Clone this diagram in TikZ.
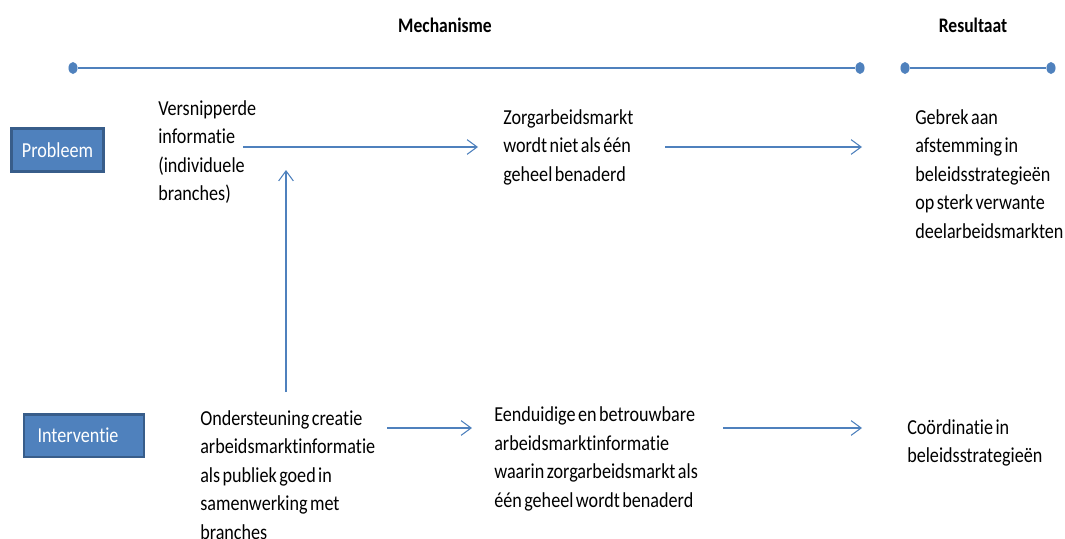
\documentclass[tikz,border=0pt]{standalone}
\usepackage{fontspec}
\setmainfont{Carlito}[FakeStretch=0.85, WordSpace=0.6, Ligatures=NoCommon]
\usetikzlibrary{arrows.meta,shapes.geometric}
\definecolor{lineblue}{HTML}{4F81BD}
\definecolor{edgeblue}{HTML}{385D8A}

\tikzset{
  dot/.style={ellipse, fill=lineblue, inner sep=0pt, minimum width=6.8pt, minimum height=9pt},
  axis/.style={lineblue, line width=1.5pt},
  flow/.style={lineblue, line width=0.8pt, -{Straight Barb[length=7.5pt, width=11pt, line width=0.8pt]}},
  tag/.style={draw=edgeblue, line width=2pt, fill=lineblue, text=white, inner sep=0pt,
    minimum width=69pt, minimum height=32pt, font=\fontsize{16}{18}\selectfont},
  txt/.style={anchor=north west, align=left, inner sep=0pt, font=\fontsize{16}{21.4}\selectfont},
  head/.style={font=\fontsize{15.5}{18}\selectfont\bfseries}
}

\begin{document}
\begin{tikzpicture}[x=0.75pt, y=-0.75pt]
    \useasboundingbox (0,0) rectangle (1065,539);
    % Headers
    \node[head] (mech) at (445,25) {Mechanisme};
    \node[head] (res) at (973,25) {Resultaat};
    % Time axis
    \node[dot] (m1) at (73,68) {};
    \node[dot] (m2) at (860,68) {};
    \node[dot] (r1) at (905,68) {};
    \node[dot] (r2) at (1051,68) {};
    \draw[axis] (m1) -- (m2);
    \draw[axis] (r1) -- (r2);
    % Row labels
    \node[tag] (prob) at (57.5,150) {Probleem};
    \node[tag, minimum width=90pt] (interv) at (84,435.5) {\hspace*{-9pt}Interventie};
    % Problem row
    \node[txt] (versn) at (158,100) {Versnipperde\\informatie\\(individuele\\branches)};
    \node[txt] (zorg) at (503,109) {Zorgarbeidsmarkt\\wordt niet als één\\geheel benaderd};
    \node[txt] (gebrek) at (915,109) {Gebrek aan\\afstemming in\\beleidsstrategieën\\op sterk verwante\\deelarbeidsmarkten};
    % Intervention row
    \node[txt] (onder) at (200,410) {Ondersteuning creatie\\arbeidsmarktinformatie\\als publiek goed in\\samenwerking met\\branches};
    \node[txt] (eend) at (494,406.5) {Eenduidige en betrouwbare\\arbeidsmarktinformatie\\waarin zorgarbeidsmarkt als\\één geheel wordt benaderd};
    \node[txt] (coord) at (907,419) {Coördinatie in\\beleidsstrategieën};
    % Arrows
    \coordinate (p1) at (243,147);
    \coordinate (p2) at (478,147);
    \coordinate (p3) at (665,147);
    \coordinate (p4) at (862,147);
    \coordinate (v1) at (286,392);
    \coordinate (v2) at (286,170);
    \coordinate (i1) at (387,428);
    \coordinate (i2) at (472,428);
    \coordinate (i3) at (723,428);
    \coordinate (i4) at (862,428);
    \draw[flow] (p1) -- (p2);
    \draw[flow] (p3) -- (p4);
    \draw[flow] (v1) -- (v2);
    \draw[flow] (i1) -- (i2);
    \draw[flow] (i3) -- (i4);
\end{tikzpicture}
\end{document}
